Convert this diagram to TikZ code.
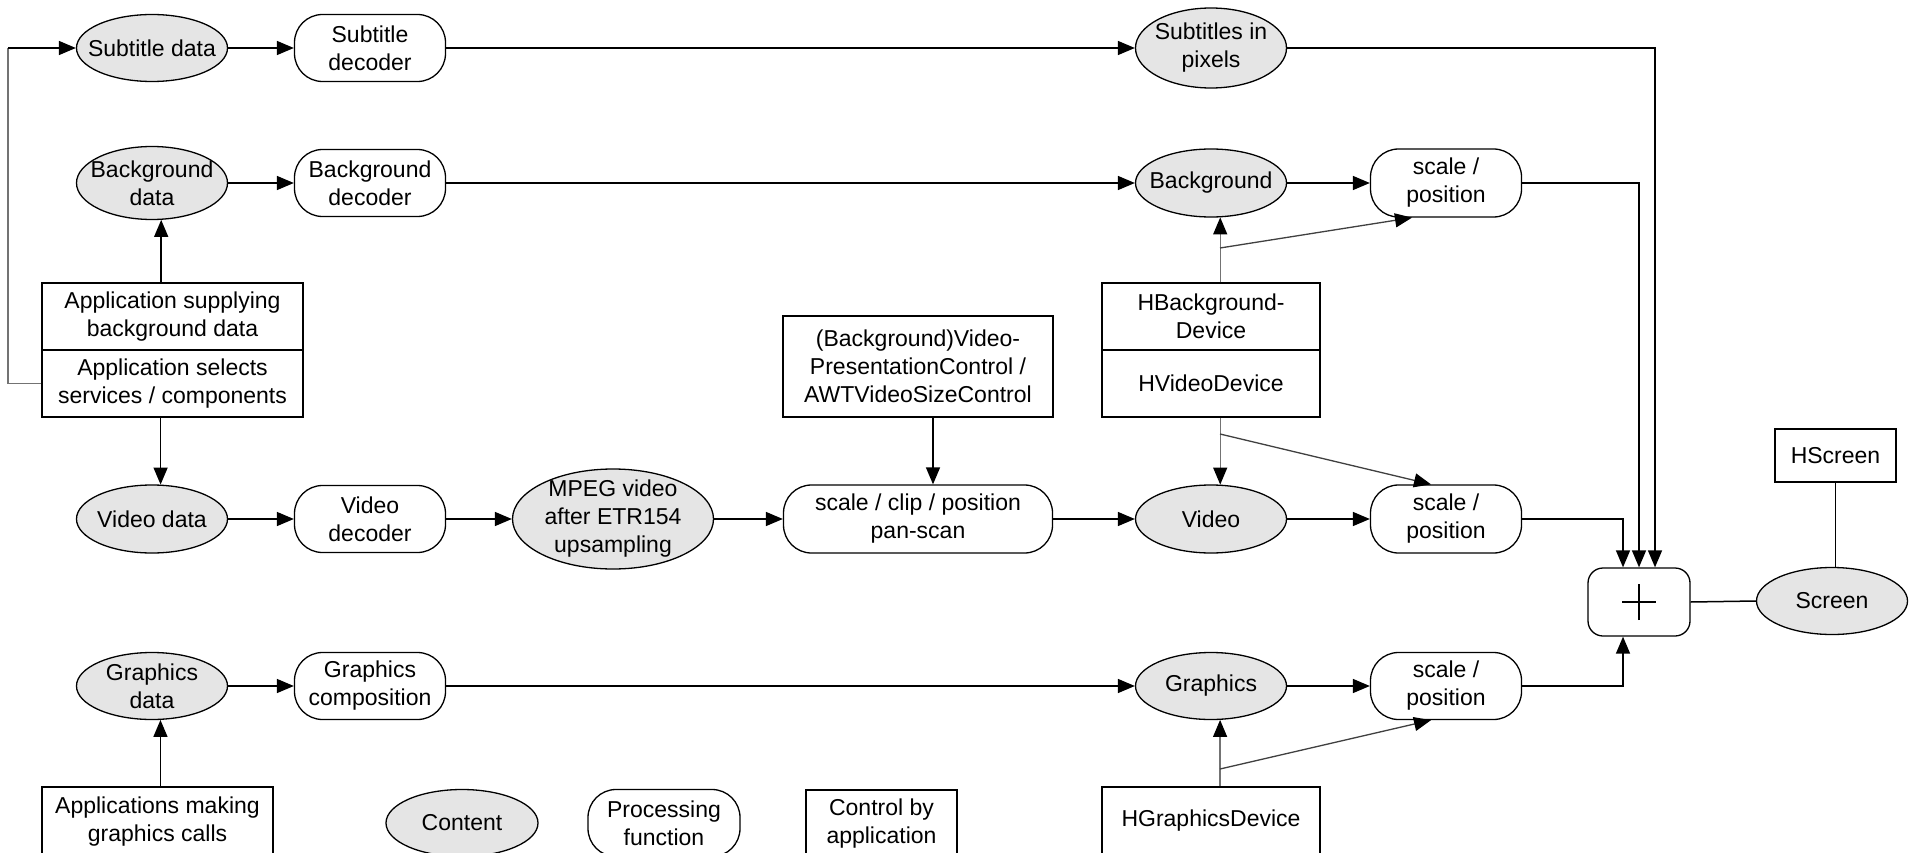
\documentclass[tikz,border=0pt]{standalone}
\usepackage{fontspec}
\setmainfont{Liberation Sans}
\usetikzlibrary{shapes.geometric,arrows.meta}
\begin{document}
\begin{tikzpicture}[x=1pt,y=-1pt,
  every node/.style={font=\fontsize{23}{28}\selectfont, align=center, line width=1.3pt},
  content/.style={ellipse, draw, fill=black!10, inner xsep=-12pt, inner ysep=-6pt, minimum width=151pt, minimum height=67pt},
  proc/.style={rectangle, draw, rounded corners=28pt, minimum width=151pt, minimum height=67pt, inner sep=0pt},
  ctrl/.style={rectangle, draw, inner sep=0pt},
  conn/.style={line width=1.5pt},
  tip/.style={-{Triangle[length=17pt,width=14pt,color=black]}},
  arr/.style={conn, tip},
  gline/.style={line width=1.2pt, black!55},
  bline/.style={line width=1.3pt, black!75},
]
\useasboundingbox (0,0) rectangle (1910,853);
\clip (0,0) rectangle (1910,853);
\fill[white] (0,0) rectangle (1910,853);

% content ellipses
\node[content] (sd) at (152,48) {Subtitle data};
\node[content, minimum height=73pt] (bd) at (152,183) {Background\\data};
\node[content, minimum height=68pt] (vd) at (152,519) {Video data};
\node[content] (gd) at (152,686) {Graphics\\data};
\node[content, minimum width=201pt, minimum height=100pt] (mpeg) at (613,519) {MPEG video\\after ETR154\\upsampling};
\node[content, minimum height=80pt] (sp) at (1211,48) {Subtitles in\\pixels};
\node[content, minimum height=68pt] (bg) at (1211,183) {Background};
\node[content, minimum height=68pt] (vid) at (1211,519) {Video};
\node[content] (gr) at (1211,686) {Graphics};
\node[content] (scr) at (1832,601) {Screen};
\node[content, minimum width=152pt] (lcontent) at (462,823) {Content};

% processing functions
\node[proc] (sdec) at (370,48) {Subtitle\\decoder};
\node[proc] (bdec) at (370,183) {Background\\decoder};
\node[proc] (vdec) at (370,519) {Video\\decoder};
\node[proc] (gcomp) at (370,686) {Graphics\\composition};
\node[proc, minimum width=269pt, minimum height=68pt] (scp) at (918,519) {scale / clip / position\\pan-scan};
\node[proc, minimum height=68pt] (spb) at (1446,183) {scale /\\position};
\node[proc, minimum height=68pt] (spv) at (1446,519) {scale /\\position};
\node[proc] (spg) at (1446,686) {scale /\\position};
\node[proc, rounded corners=15pt, minimum width=102pt, minimum height=68pt] (plus) at (1639,602) {};
\node[proc, minimum width=152pt] (lproc) at (664,823) {Processing\\function};

% control boxes
\node[ctrl, minimum width=261pt, minimum height=67pt] (appTop) at (172.5,316.5) {Application supplying\\background data};
\node[ctrl, minimum width=261pt, minimum height=67pt] (appBot) at (172.5,383.5) {Application selects\\services / components};
\node[ctrl, minimum width=270pt, minimum height=101pt] (bvc) at (918,366.5) {(Background)Video-\\PresentationControl /\\AWTVideoSizeControl};
\node[ctrl, minimum width=218pt, minimum height=67pt] (hbg) at (1211,316.5) {HBackground-\\Device};
\node[ctrl, minimum width=218pt, minimum height=67pt] (hvd) at (1211,383.5) {HVideoDevice};
\node[ctrl, minimum width=121pt, minimum height=53pt] (hscr) at (1835.5,455.5) {HScreen};
\node[ctrl, minimum width=218pt, minimum height=68pt] (hgd) at (1211,821) {HGraphicsDevice};
\node[ctrl, minimum width=231pt, minimum height=69pt] (amg) at (157.5,821.5) {Applications making\\graphics calls};
\node[ctrl, minimum width=151pt, minimum height=67pt] (lctrl) at (881.5,823.5) {Control by\\application};

% plus sign
\draw[line width=1.1pt] ([xshift=-17pt]plus.center) -- ([xshift=17pt]plus.center);
\draw[line width=1.1pt] ([yshift=-18pt]plus.center) -- ([yshift=18pt]plus.center);

% left loop from application selects to subtitle data
\coordinate (lc) at (8,48);
\draw[gline] (appBot.west) -| (lc);
\draw[arr] (lc) -- (sd.west);

% application arrows
\draw[arr] (appTop.north -| bd.-76) -- (bd.-76);
\draw[arr] (appBot.south -| vd.76) -- (vd.76);
\draw[arr] (amg.north -| gd.-76) -- (gd.-76);

% subtitle row
\draw[arr] (sd.east) -- (sdec.west);
\draw[arr] (sdec.east) -- (sp.west);
\draw[arr] (sp.east) -| ([xshift=16pt]plus.north);

% background row
\draw[arr] (bd.east) -- (bdec.west);
\draw[arr] (bdec.east) -- (bg.west);
\draw[arr] (bg.east) -- (spb.west);
\draw[arr] (spb.east) -| (plus.north);

% video row
\draw[arr] (vd.east) -- (vdec.west);
\draw[arr] (vdec.east) -- (mpeg.west);
\draw[arr] (mpeg.east) -- (scp.west);
\draw[arr] (scp.east) -- (vid.west);
\draw[arr] (vid.east) -- (spv.west);
\draw[arr] (spv.east) -| ([xshift=-16pt]plus.north);
\draw[arr] ([xshift=15pt]bvc.south) -- ([xshift=15pt]scp.north);

% graphics row
\draw[arr] (gd.east) -- (gcomp.west);
\draw[arr] (gcomp.east) -- (gr.west);
\draw[arr] (gr.east) -- (spg.west);
\draw[arr] (spg.east) -| ([xshift=-16pt]plus.south);

% device controls
\coordinate (b1) at (1220,248);
\draw[gline, tip] (hbg.north -| bg.-75) -- (bg.-75);
\draw[bline, tip] (b1) -- ([xshift=-34pt]spb.south);

\coordinate (b2) at (1220,434);
\draw[gline, tip] (hvd.south -| vid.75) -- (vid.75);
\draw[bline, tip] (b2) -- ([xshift=-15pt]spv.north);

\coordinate (b3) at (1220,769);
\draw[gline, tip] (hgd.north -| gr.-75) -- (gr.-75);
\draw[bline, tip] (b3) -- ([xshift=-15pt]spg.south);

% screen
\draw[conn] (plus.east) -- (scr.west);
\draw[conn] (hscr.south) -- (scr.north -| hscr.south);
\end{tikzpicture}
\end{document}
